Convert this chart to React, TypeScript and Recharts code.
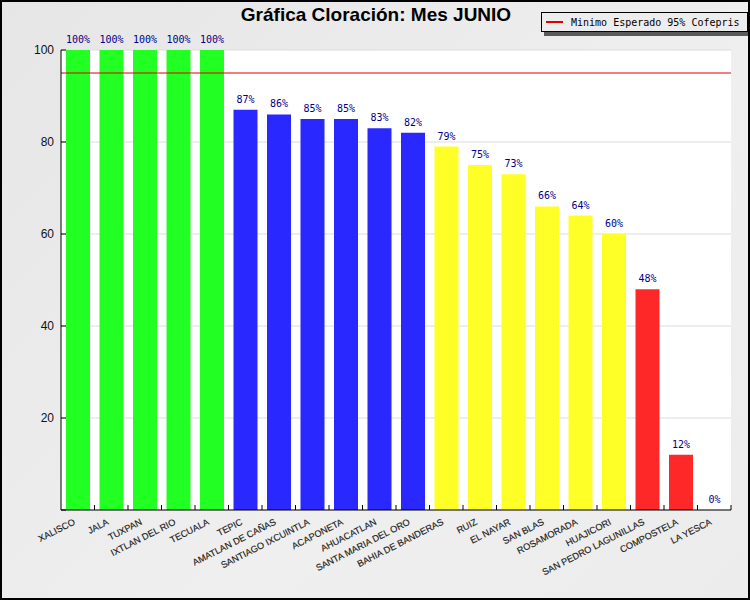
import React from "react";
import { BarChart, Bar, XAxis, YAxis, CartesianGrid, ReferenceLine, LabelList, Cell } from "recharts";

const categories = [
  "XALISCO", "JALA", "TUXPAN", "IXTLAN DEL RIO", "TECUALA",
  "TEPIC", "AMATLAN DE CAÑAS", "SANTIAGO IXCUINTLA", "ACAPONETA", "AHUACATLAN",
  "SANTA MARIA DEL ORO", "BAHIA DE BANDERAS", "RUIZ", "EL NAYAR", "SAN BLAS",
  "ROSAMORADA", "HUAJICORI", "SAN PEDRO LAGUNILLAS", "COMPOSTELA", "LA YESCA",
];
const values = [100, 100, 100, 100, 100, 87, 86, 85, 85, 83, 82, 79, 75, 73, 66, 64, 60, 48, 12, 0];
const barColors = [
  "#22ff22", "#22ff22", "#22ff22", "#22ff22", "#22ff22",
  "#2828ff", "#2828ff", "#2828ff", "#2828ff", "#2828ff", "#2828ff",
  "#ffff28", "#ffff28", "#ffff28", "#ffff28", "#ffff28", "#ffff28",
  "#ff2828", "#ff2828", "#ff2828",
];
const yTicks = [0, 20, 40, 60, 80, 100];
const referenceValue = 95;
const title = "Gráfica Cloración: Mes JUNIO";
const legendLabel = "Minimo Esperado 95% Cofepris";

const data = categories.map((name, i) => ({ name, value: values[i] }));

const BAND = 670 / categories.length;

const XTick = (props: any) => {
  const { x, y, payload } = props;
  return (
    <g>
      <line x1={x + BAND / 2} y1={y} x2={x + BAND / 2} y2={y - 5} stroke="#000" strokeWidth={1} />
      <text
        x={x - 2}
        y={y + 14}
        textAnchor="end"
        transform={`rotate(-27, ${x - 2}, ${y + 14})`}
        fontFamily="'Liberation Sans', Arial, sans-serif"
        fontSize={9.2}
        fill="#1a1a1a"
        stroke="#1a1a1a"
        strokeWidth={0.15}
      >
        {payload.value}
      </text>
    </g>
  );
};

const YTick = (props: any) => {
  const { x, y, payload } = props;
  return (
    <g>
      <line x1={x} y1={y} x2={x + 5} y2={y} stroke="#000" strokeWidth={1} />
      {payload.value !== 0 && (
        <text
          x={x - 7}
          y={y + 4.3}
          textAnchor="end"
          fontFamily="'Liberation Sans', Arial, sans-serif"
          fontSize={12}
          fill="#111"
        >
          {payload.value}
        </text>
      )}
    </g>
  );
};

export default function App() {
  return (
    <div
      style={{
        position: "absolute",
        left: 0,
        top: 0,
        width: 750,
        height: 600,
        background: "linear-gradient(135deg, #e6e6e6 0%, #efefef 60%, #ececec 100%)",
        overflow: "hidden",
      }}
    >
      <div style={{ position: "absolute", left: 0, top: 0 }}>
        <BarChart
          width={750}
          height={600}
          data={data}
          margin={{ top: 50, right: 19, left: 0, bottom: 0 }}
        >
          <CartesianGrid vertical={false} stroke="#dcdcdc" fill="#ffffff" />
          <XAxis
            dataKey="name"
            interval={0}
            height={90}
            tickLine={false}
            tickSize={0}
            tickMargin={0}
            tick={<XTick />}
            axisLine={{ stroke: "#000" }}
          />
          <YAxis
            width={61}
            domain={[0, 100]}
            ticks={yTicks}
            tickLine={false}
            tickSize={0}
            tickMargin={0}
            tick={<YTick />}
            axisLine={{ stroke: "#000" }}
          />
          <Bar dataKey="value" barSize={24} minPointSize={0.01} isAnimationActive={false}>
            {data.map((d, i) => (
              <Cell key={d.name} fill={barColors[i]} />
            ))}
            <LabelList
              dataKey="value"
              position="top"
              offset={7}
              formatter={(v: any) => `${v}%`}
              fill="#00008b"
              fontFamily="'DejaVu Sans Mono', monospace"
              fontSize={10}
            />
          </Bar>
          <ReferenceLine y={referenceValue} stroke="#e00000" strokeWidth={1} />
        </BarChart>
      </div>
      <div
        style={{
          position: "absolute",
          left: 0,
          width: 752,
          top: 4,
          textAlign: "center",
          fontFamily: "'Liberation Sans', Arial, sans-serif",
          fontWeight: "bold",
          fontSize: 19,
          color: "#000",
          lineHeight: "22px",
          whiteSpace: "nowrap",
        }}
      >
        {title}
      </div>
      <div
        style={{
          position: "absolute",
          left: 544,
          top: 16,
          width: 207,
          height: 20,
          background: "#5a5a5a",
        }}
      />
      <div
        style={{
          position: "absolute",
          left: 541,
          top: 12,
          width: 207,
          height: 20,
          boxSizing: "border-box",
          border: "1px solid #000",
          background: "#ededed",
          display: "flex",
          alignItems: "center",
        }}
      >
        <div style={{ marginLeft: 4, width: 17, height: 2, background: "#e00000" }} />
        <div
          style={{
            marginLeft: 8,
            fontFamily: "'DejaVu Sans Mono', monospace",
            fontSize: 10,
            color: "#000",
            whiteSpace: "nowrap",
          }}
        >
          {legendLabel}
        </div>
      </div>
      <div
        style={{
          position: "absolute",
          left: 0,
          top: 0,
          width: 750,
          height: 600,
          boxSizing: "border-box",
          border: "2px solid #000",
          pointerEvents: "none",
        }}
      />
    </div>
  );
}
